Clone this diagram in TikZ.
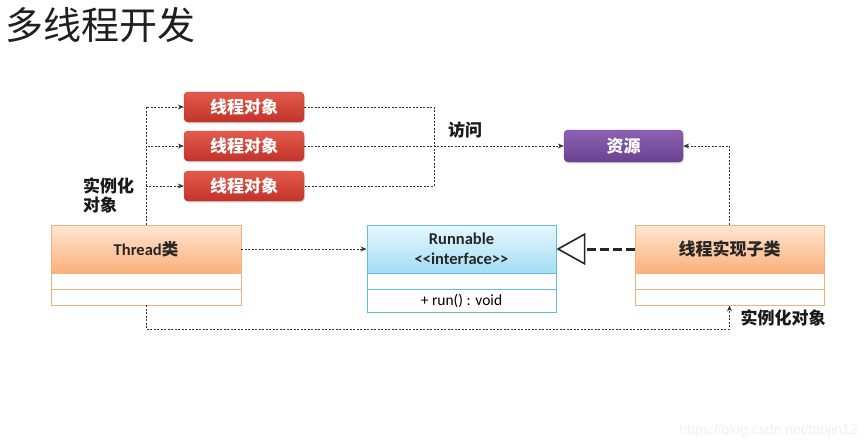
\documentclass[tikz,border=0pt]{standalone}
\usepackage{fontspec}
\setmainfont{Carlito}
\newfontfamily\cjk{Noto Sans CJK SC}
\newfontfamily\wmfont{Liberation Sans}
\usetikzlibrary{arrows.meta,shadows}
\definecolor{redtop}{HTML}{E35B4C}
\definecolor{redbot}{HTML}{C2332A}
\definecolor{redline}{HTML}{B5342A}
\definecolor{purtop}{HTML}{8C61B3}
\definecolor{purbot}{HTML}{6B4290}
\definecolor{purline}{HTML}{684290}
\definecolor{ortop}{HTML}{FEE6D2}
\definecolor{orbot}{HTML}{FBB07A}
\definecolor{orline}{HTML}{F5B07C}
\definecolor{bltop}{HTML}{E6F7FD}
\definecolor{blbot}{HTML}{A3DDF5}
\definecolor{blline}{HTML}{62BEE3}
\definecolor{lineclr}{HTML}{333333}
\definecolor{wmclr}{HTML}{F0F0F0}
\tikzset{
  dl/.style={draw=lineclr,line width=0.8pt,dash pattern=on 2pt off 1.5pt},
  tip/.style={-{Stealth[length=6pt,width=5pt]}},
  redbox/.style={draw=redline,rounded corners=4pt,top color=redtop,bottom color=redbot,
    minimum width=120pt,minimum height=30pt,inner sep=0pt,text=white,
    font=\cjk\bfseries\fontsize{17}{17}\selectfont,
    drop shadow={opacity=0.25,shadow xshift=1pt,shadow yshift=-1.5pt}},
  purbox/.style={draw=purline,rounded corners=4pt,top color=purtop,bottom color=purbot,
    minimum width=119pt,minimum height=32pt,inner sep=0pt,text=white,
    font=\cjk\bfseries\fontsize{17}{17}\selectfont,
    drop shadow={opacity=0.25,shadow xshift=1pt,shadow yshift=-1.5pt}},
  orhead/.style={draw=orline,line width=0.9pt,top color=ortop,bottom color=orbot,
    minimum width=190pt,minimum height=48pt,inner sep=0pt,text=black!85},
  orrow/.style={draw=orline,line width=0.9pt,fill=white,minimum width=190pt,inner sep=0pt},
  blhead/.style={draw=blline,line width=0.9pt,top color=bltop,bottom color=blbot,
    minimum width=189pt,minimum height=48pt,inner sep=0pt,text=black!85,align=center,
    font=\bfseries\fontsize{16.5}{20}\selectfont},
  blrow/.style={draw=blline,line width=0.9pt,fill=white,minimum width=189pt,inner sep=0pt},
  lbl/.style={text=black!90,font=\cjk\bfseries\fontsize{17}{19}\selectfont,inner sep=0pt}
}
\begin{document}
\begin{tikzpicture}[x=1pt,y=-1pt]
\useasboundingbox[fill=white] (0,0) rectangle (868,445);
% title
\node[anchor=west,inner sep=0pt,text=black!88,font=\cjk\fontsize{38}{38}\selectfont] (title) at (5,25) {多线程开发};
% red thread objects
\node[redbox] (r1) at (244,107) {线程对象};
\node[redbox] (r2) at (244,146) {线程对象};
\node[redbox] (r3) at (244,186) {线程对象};
% resource
\node[purbox] (res) at (623.5,146) {资源};
% Thread class
\node[orrow,minimum height=16pt] (th1) at (146,281) {};
\node[orrow,minimum height=16pt] (th2) at (146,297) {};
\node[orhead] (th) at (146,249) {\bfseries\fontsize{16.5}{16.5}\selectfont Thread{\cjk 类}};
% Runnable
\node[blrow,minimum height=16pt] (rn1) at (461.5,281) {};
\node[blrow,minimum height=23pt,font=\fontsize{15.5}{15.5}\selectfont] (rn2) at (461.5,300.5) {+ run() : void};
\node[blhead] (rn) at (461.5,249) {Runnable\\<{}<interface>{}>};
% subclass
\node[orrow,minimum height=16pt,minimum width=189pt] (sb1) at (729.5,281) {};
\node[orrow,minimum height=16pt,minimum width=189pt] (sb2) at (729.5,297) {};
\node[orhead,minimum width=189pt,font=\cjk\bfseries\fontsize{17}{17}\selectfont] (sb) at (729.5,249) {线程实现子类};
% connectors from Thread to thread objects
\draw[dl,tip] (th.north) |- (r1.west);
\draw[dl,tip] (th.north) |- (r2.west);
\draw[dl,tip] (th.north) |- (r3.west);
\node[lbl,anchor=west,align=left] (inst1) at (83,195) {实例化\\对象};
% thread objects to resource
\coordinate (jt) at (434,107);
\coordinate (jb) at (434,186);
\draw[dl] (r1.east) -- (jt) -- (jb) -- (r3.east);
\draw[dl,tip] (r2.east) -- (res.west);
\node[lbl] (visit) at (465,130) {访问};
% Thread to Runnable
\draw[dl,tip] (th.east) -- (rn.west);
% realization
\draw[draw=black!85,line width=3pt,dash pattern=on 9pt off 4pt,
  -{Triangle[open,length=29pt,width=32pt,line width=1.6pt,fill=white]}] (sb.west) -- (rn.east);
% subclass to resource
\draw[dl,tip] (sb.north) |- (res.east);
% bottom: Thread to subclass instance
\coordinate (b1) at (146,329);
\coordinate (b2) at (729.5,329);
\draw[dl,tip] (th2.south) -- (b1) -- (b2) -- (sb2.south);
\node[lbl] (inst2) at (783,318) {实例化对象};
% watermark
\node[anchor=east,inner sep=0pt,text=wmclr,font=\wmfont\fontsize{14}{14}\selectfont] (wm) at (858,431) {https://blog.csdn.net/taojin12};
\end{tikzpicture}
\end{document}
